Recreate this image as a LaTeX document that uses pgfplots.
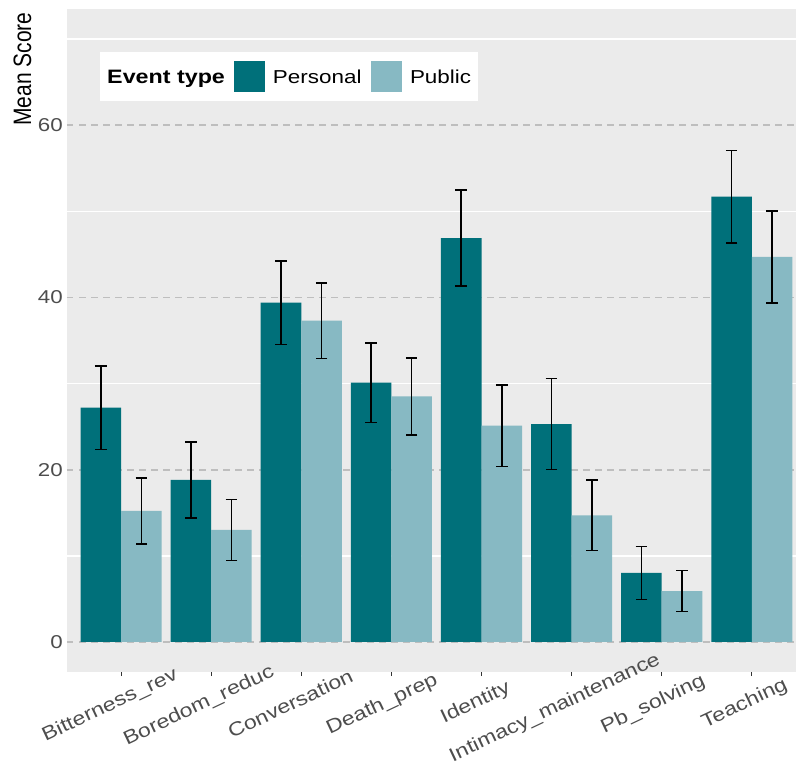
\documentclass[border=0pt]{standalone}
\usepackage{pgfplots}
\usepackage{pgfplotstable}
\pgfplotsset{compat=1.18}
\usepackage{fontspec}
\setmainfont{Liberation Sans}[FakeStretch=1.2]
\newfontfamily\plainfont{Liberation Sans}
\definecolor{personal}{HTML}{00707A}
\definecolor{public}{HTML}{87B9C3}
\definecolor{panel}{HTML}{EBEBEB}
\definecolor{grey30}{HTML}{4D4D4D}
\definecolor{grey20}{HTML}{333333}
\definecolor{hline}{HTML}{BEBEBE}
\newcommand\xl[1]{\setbox0\hbox{#1}\dimen0=\wd0\kern-0.575\dimen0\box0\kern-0.425\dimen0}

% x = category index (0..7) shifted by half a bar width (dodge)
\pgfplotstableread{
x y e
-0.225 27.2 4.85
0.775 18.8 4.40
1.775 39.4 4.85
2.775 30.1 4.60
3.775 46.9 5.55
4.775 25.3 5.30
5.775 8.0 3.10
6.775 51.7 5.35
}\personaldata

\pgfplotstableread{
x y e
0.225 15.2 3.85
1.225 13.0 3.55
2.225 37.3 4.40
3.225 28.5 4.45
4.225 25.1 4.75
5.225 14.7 4.10
6.225 5.9 2.40
7.225 44.7 5.35
}\publicdata

\begin{document}
\begin{tikzpicture}
\begin{axis}[
  scale only axis, width=729pt, height=663pt,
  xmin=-0.6, xmax=7.49, ymin=-3.5, ymax=73.5,
  axis background/.style={fill=panel},
  axis line style={draw=none},
  bar width=0.45,
  xtick={0,...,7},
  xticklabels={\xl{Bitterness\_rev},\xl{Boredom\_reduc},\xl{Conversation},\xl{Death\_prep},\xl{Identity},\xl{Intimacy\_maintenance},\xl{Pb\_solving},\xl{Teaching}},
  ytick={0,20,40,60}, yticklabels={0,20,40,60},
  minor ytick={10,30,50,70}, yminorgrids=true, ymajorgrids=false,
  minor grid style={white, line width=1.6pt}, minor tick length=0pt,
  tick align=outside, major tick length=4pt,
  xtick pos=bottom, ytick pos=left,
  xtick style={grey20, line width=1.1pt},
  ytick style={draw=none},
  /pgf/number format/assume math mode=true,
  yticklabel style={font=\fontsize{18.6}{22}\selectfont, text=grey30, inner sep=0pt, anchor=east},
  xticklabel style={font=\fontsize{19.2}{23}\selectfont, text=grey30, inner sep=0pt, anchor=mid, rotate=25.3},
  xticklabel shift=27pt,
  ylabel={Mean Score},
  ylabel style={font=\plainfont\fontsize{21}{25}\selectfont, at={(rel axis cs:-0.061,0.995)}, anchor=east, inner sep=0pt, yscale=1.2},
  legend style={at={(rel axis cs:0.0453,0.935)}, anchor=north west, draw=none, fill=white,
    inner xsep=7pt, inner ysep=9pt, legend columns=-1, column sep=0pt,
    font=\fontsize{18.7}{22}\selectfont, nodes={inner sep=0pt}, cells={anchor=base west}},
]
\coordinate (sw) at (rel axis cs:0,0);
\coordinate (ne) at (rel axis cs:1,1);
\addlegendimage{legend image code/.code={}}
\addlegendentry{\fontsize{19.4}{22}\selectfont\textbf{Event type}}

\addplot[hline, dash pattern=on 6.5pt off 5.5pt, line width=1.8pt, forget plot] coordinates {(-0.6,0) (7.49,0)};
\addplot[hline, dash pattern=on 6.5pt off 5.5pt, line width=1.8pt, forget plot] coordinates {(-0.6,20) (7.49,20)};
\addplot[hline, dash pattern=on 6.5pt off 5.5pt, line width=1.8pt, forget plot] coordinates {(-0.6,40) (7.49,40)};
\addplot[hline, dash pattern=on 6.5pt off 5.5pt, line width=1.8pt, forget plot] coordinates {(-0.6,60) (7.49,60)};

\addplot[ybar, bar shift=0pt, fill=personal, draw=none,
  legend image code/.code={\path (-9pt,0pt) (39pt,0pt); \fill[personal] (0pt,-8.7pt) rectangle (31pt,22.3pt);},
  error bars/.cd, y dir=both, y explicit,
  error bar style={draw=black, line width=1.5pt},
  error mark options={draw=black, rotate=90, mark size=5.8pt, line width=1.5pt}]
  table[x=x, y=y, y error=e] {\personaldata};
\addlegendentry{Personal}

\addplot[ybar, bar shift=0pt, fill=public, draw=none,
  legend image code/.code={\path (-9.5pt,0pt) (39pt,0pt); \fill[public] (0pt,-8.7pt) rectangle (31pt,22.3pt);},
  error bars/.cd, y dir=both, y explicit,
  error bar style={draw=black, line width=1.5pt},
  error mark options={draw=black, rotate=90, mark size=5.8pt, line width=1.5pt}]
  table[x=x, y=y, y error=e] {\publicdata};
\addlegendentry{Public}
\end{axis}
\pgfresetboundingbox
\path ([shift={(-67pt,-97pt)}]sw) rectangle ([shift={(0pt,9pt)}]ne);
\end{tikzpicture}
\end{document}
